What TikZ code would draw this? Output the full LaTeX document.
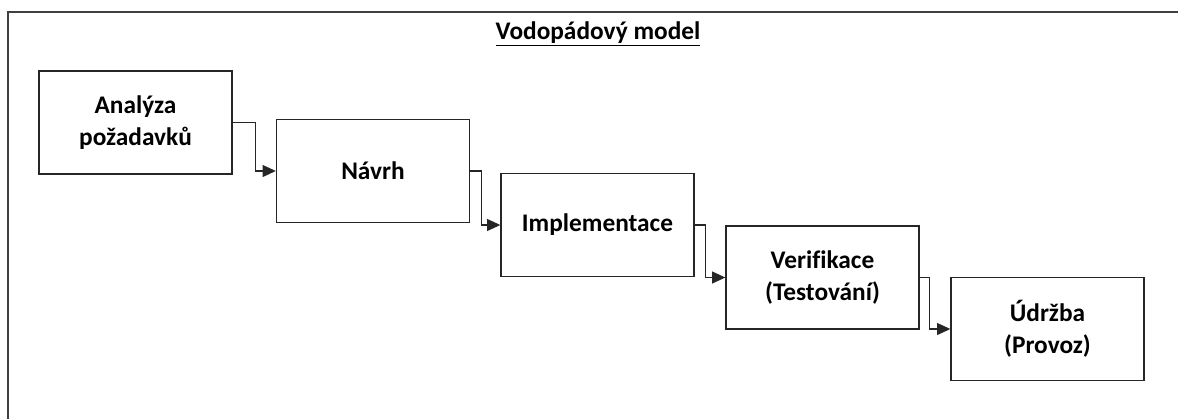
\documentclass[tikz,border=0pt]{standalone}
\usepackage{fontspec}
\setmainfont{Carlito}[Ligatures=CommonOff]
\usetikzlibrary{arrows.meta}

\begin{document}
\begin{tikzpicture}[x=0.75pt, y=-0.75pt,
    phase/.style={draw=black!85, line width=1pt, fill=white, minimum width=144.75pt,
      minimum height=77.25pt, align=center, inner sep=0pt,
      font=\fontsize{19}{24}\selectfont\bfseries},
    flow/.style={draw=black!85, line width=1pt, -{Triangle[length=10pt,width=9pt]}}]
    \useasboundingbox (0, 0) rectangle (1178, 418);
    \fill [white] (0, 0) rectangle (1178, 418);
    \clip (0, 0) rectangle (1178, 418);
    \draw [black!75, line width=1.1pt] (8, 12) rectangle (1200, 440);

    \node [anchor=base, font=\fontsize{19}{24}\selectfont\bfseries] (title) at (598, 39) {\underline{Vodopádový model}};

    \node [phase] (analyza) at (135.5, 122.5) {Analýza\\požadavků};
    \node [phase] (navrh) at (373, 171) {Návrh};
    \node [phase] (impl) at (597.5, 225) {Implementace};
    \node [phase] (verif) at (822.5, 277.5) {Verifikace\\(Testování)};
    \node [phase] (udrzba) at (1047.5, 329) {Údržba\\(Provoz)};

    \draw [flow] (analyza.east) -- ++(23, 0) |- (navrh.west);
    \draw [flow] (navrh.east) -- ++(11, 0) |- (impl.west);
    \draw [flow] (impl.east) -- ++(11, 0) |- (verif.west);
    \draw [flow] (verif.east) -- ++(10, 0) |- (udrzba.west);
  \end{tikzpicture}
\end{document}
